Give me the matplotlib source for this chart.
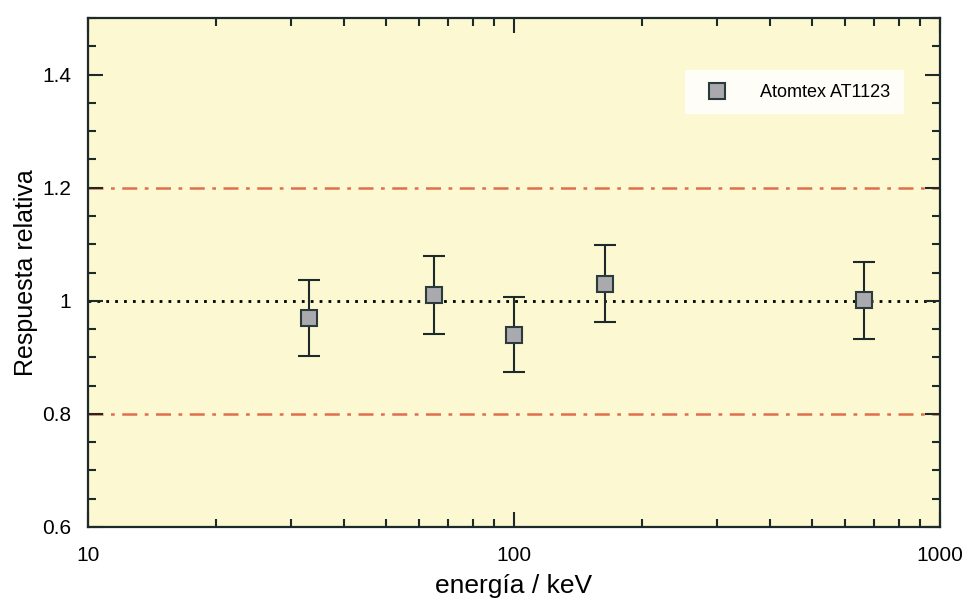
import matplotlib
matplotlib.use("Agg")
import matplotlib.pyplot as plt
from matplotlib.lines import Line2D
from matplotlib.ticker import FixedLocator, MultipleLocator, LogLocator, NullFormatter

# energy (keV), relative response and its uncertainty
energy   = [33, 65, 100, 164, 662]
response = [0.970, 1.011, 0.940, 1.030, 1.001]
err      = [0.067, 0.069, 0.066, 0.068, 0.068]
limits   = [0.8, 1.2]
ref      = 1.0

plt.rcParams["font.family"] = ["Liberation Sans", "DejaVu Sans"]

fig = plt.figure(figsize=(9.69, 6.02), dpi=100)
ax = fig.add_axes([0.0908, 0.1246, 0.8792, 0.8454])
ax.set_facecolor("#fbf8d2")

for lim in limits:
    ax.axhline(lim, color="#e0704c", lw=1.8, ls=(0, (6, 3, 1.5, 3)), zorder=1)
ax.axhline(ref, color="black", lw=2.0, ls=(0, (1, 2.2)), zorder=1)

ax.errorbar(energy, response, yerr=err, fmt="s", ms=12, mfc="#a9a9ae",
            mec="#2b3a3a", mew=1.5, ecolor="#1e2a2a", elinewidth=1.5,
            capsize=8, capthick=1.5, zorder=3)

ax.set_xscale("log")
ax.set_xlim(10, 1000)
ax.set_ylim(0.6, 1.5)
ax.xaxis.set_major_locator(FixedLocator([10, 100, 1000]))
ax.set_xticklabels(["10", "100", "1000"])
ax.xaxis.set_minor_locator(LogLocator(base=10, subs=range(2, 10)))
ax.xaxis.set_minor_formatter(NullFormatter())
ax.yaxis.set_major_locator(FixedLocator([0.6, 0.8, 1.0, 1.2, 1.4]))
ax.set_yticklabels(["0.6", "0.8", "1", "1.2", "1.4"])
ax.yaxis.set_minor_locator(MultipleLocator(0.05))

ax.tick_params(which="both", direction="in", top=True, right=True,
               color="#1e2a2a", width=1.5, labelsize=15)
ax.tick_params(which="major", length=11)
ax.tick_params(which="minor", length=6)
ax.tick_params(axis="x", pad=14)
ax.tick_params(axis="y", pad=12)
for s in ax.spines.values():
    s.set_linewidth(1.6)
    s.set_color("#1e2a2a")

ax.set_xlabel("energía / keV", fontsize=19, labelpad=6)
ax.set_ylabel("Respuesta relativa", fontsize=18, labelpad=3)

handle = Line2D([], [], ls="none", marker="s", ms=12, mfc="#a9a9ae",
                mec="#2b3a3a", mew=1.5)
leg = ax.legend([handle], ["Atomtex AT1123"], loc="upper right",
                bbox_to_anchor=(0.968, 0.915), frameon=True, fontsize=13,
                handletextpad=1.4, borderpad=0.75, numpoints=1)
leg.get_frame().set_facecolor("white")
leg.get_frame().set_edgecolor("none")
leg.get_frame().set_alpha(0.85)
leg.get_frame().set_boxstyle("square", pad=0)

fig.savefig("out.png", dpi=100)
